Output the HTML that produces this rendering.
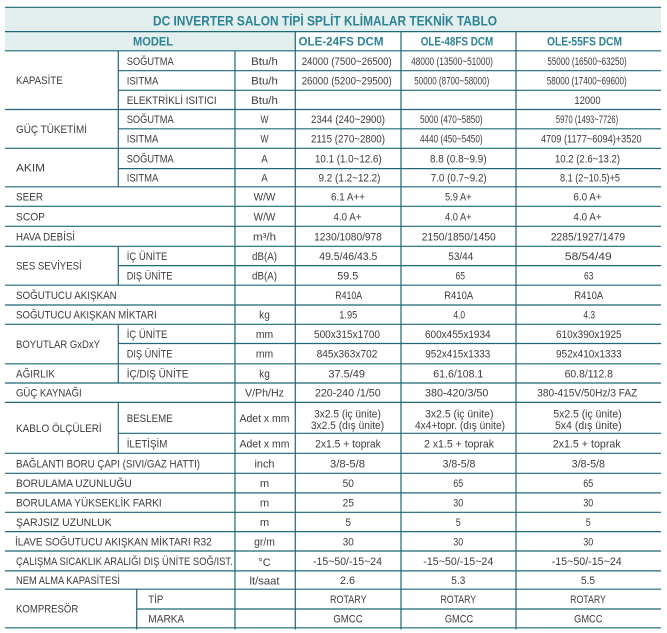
<!DOCTYPE html>
<html><head><meta charset="utf-8">
<style>
html,body{margin:0;padding:0;background:#fff;}
svg{display:block;}
.t{font-family:"Liberation Sans",sans-serif;font-size:11px;fill:#3c3c3c;}
.h{font-family:"Liberation Sans",sans-serif;font-weight:bold;fill:#2c8394;}
</style></head>
<body>
<svg width="667" height="633" viewBox="0 0 667 633" xmlns="http://www.w3.org/2000/svg">
<rect x="0" y="0" width="667" height="633" fill="#fff"/>
<rect x="5" y="7.3" width="656" height="24.3" fill="#e3eeee"/>
<rect x="5" y="31.6" width="290.3" height="19.2" fill="#e3eeee"/>
<g fill="none" stroke="#1e6878" stroke-width="1.2">
<path d="M5 7.3H661 M5 31.6H661 M5 50.8H661 M118.3 70.7H661 M118.3 90.3H661 M5 109.5H661 M118.3 128.8H661 M5 148.3H661 M118.3 168.6H661 M5 186.8H661 M5 206.3H661 M5 226.3H661 M5 246.3H661 M118.3 265.6H661 M5 285.2H661 M5 305H661 M5 324.3H661 M118.3 343.5H661 M5 363.8H661 M5 383H661 M5 402.4H661 M118.3 433.3H661 M5 453.3H661 M5 473.3H661 M5 492.9H661 M5 512.3H661 M5 531.6H661 M5 551H661 M5 570.9H661 M5 589.2H661 M136.7 609H661 M5 627.8H661"/>
<path d="M118.3 50.8V186.8 M118.3 246.3V285.2 M118.3 324.3V383 M118.3 402.4V453.3 M136.7 589.2V629.5 M235 50.8V629.5 M295.3 31.6V629.5 M401 31.6V629.5 M516 31.6V629.5"/>
</g>

<text class="h" x="325" y="25.5" font-size="14" text-anchor="middle" textLength="344" lengthAdjust="spacingAndGlyphs">DC INVERTER SALON TİPİ SPLİT KLİMALAR TEKNİK TABLO</text>
<text class="h" x="153" y="45.5" font-size="12" text-anchor="middle" textLength="40" lengthAdjust="spacingAndGlyphs">MODEL</text>
<text class="h" x="341" y="45.5" font-size="11.5" text-anchor="middle" textLength="85" lengthAdjust="spacingAndGlyphs">OLE-24FS DCM</text>
<text class="h" x="457" y="45.5" font-size="11.5" text-anchor="middle" textLength="72.6" lengthAdjust="spacingAndGlyphs">OLE-48FS DCM</text>
<text class="h" x="584.5" y="45.5" font-size="11.5" text-anchor="middle" textLength="75" lengthAdjust="spacingAndGlyphs">OLE-55FS DCM</text>

<g class="t" lengthAdjust="spacingAndGlyphs">
<!-- group labels -->
<text x="16" y="84.2" textLength="46.7" lengthAdjust="spacingAndGlyphs">KAPASİTE</text>
<text x="16" y="132.9" textLength="71" lengthAdjust="spacingAndGlyphs">GÜÇ TÜKETİMİ</text>
<text x="16" y="171.5" textLength="29" lengthAdjust="spacingAndGlyphs">AKIM</text>
<text x="16" y="200.6" textLength="27" lengthAdjust="spacingAndGlyphs">SEER</text>
<text x="16" y="220.3" textLength="29" lengthAdjust="spacingAndGlyphs">SCOP</text>
<text x="16" y="240.3" textLength="59" lengthAdjust="spacingAndGlyphs">HAVA DEBİSİ</text>
<text x="16" y="269.7" textLength="65.7" lengthAdjust="spacingAndGlyphs">SES SEVİYESİ</text>
<text x="16" y="299.1" textLength="100.7" lengthAdjust="spacingAndGlyphs">SOĞUTUCU AKIŞKAN</text>
<text x="16" y="318.7" textLength="140.7" lengthAdjust="spacingAndGlyphs">SOĞUTUCU AKIŞKAN MİKTARI</text>
<text x="16" y="348" textLength="84" lengthAdjust="spacingAndGlyphs">BOYUTLAR GxDxY</text>
<text x="16" y="377.4" textLength="39" lengthAdjust="spacingAndGlyphs">AĞIRLIK</text>
<text x="16" y="396.7" textLength="65.7" lengthAdjust="spacingAndGlyphs">GÜÇ KAYNAĞI</text>
<text x="16" y="431.9" textLength="85.7" lengthAdjust="spacingAndGlyphs">KABLO ÖLÇÜLERİ</text>
<text x="16" y="467.3" textLength="184" lengthAdjust="spacingAndGlyphs">BAĞLANTI BORU ÇAPI (SIVI/GAZ HATTI)</text>
<text x="16" y="487.1" textLength="115.7" lengthAdjust="spacingAndGlyphs">BORULAMA UZUNLUĞU</text>
<text x="16" y="506.6" textLength="145.7" lengthAdjust="spacingAndGlyphs">BORULAMA YÜKSEKLİK FARKI</text>
<text x="16" y="526" textLength="95.7" lengthAdjust="spacingAndGlyphs">ŞARJSIZ UZUNLUK</text>
<text x="15" y="545.3" textLength="196.7" lengthAdjust="spacingAndGlyphs">İLAVE SOĞUTUCU AKIŞKAN MİKTARI R32</text>
<text x="16" y="565" textLength="216.7" lengthAdjust="spacingAndGlyphs">ÇALIŞMA SICAKLIK ARALIĞI DIŞ ÜNİTE SOĞ/IST.</text>
<text x="16" y="584" textLength="104" lengthAdjust="spacingAndGlyphs">NEM ALMA KAPASİTESİ</text>
<text x="16" y="612.5" textLength="62.3" lengthAdjust="spacingAndGlyphs">KOMPRESÖR</text>

<!-- col2 labels -->
<text x="126.7" y="64.8" textLength="47" lengthAdjust="spacingAndGlyphs">SOĞUTMA</text>
<text x="126.7" y="84.5" textLength="31.7" lengthAdjust="spacingAndGlyphs">ISITMA</text>
<text x="126.7" y="103.9" textLength="90" lengthAdjust="spacingAndGlyphs">ELEKTRİKLİ ISITICI</text>
<text x="126.7" y="123.2" textLength="47" lengthAdjust="spacingAndGlyphs">SOĞUTMA</text>
<text x="126.7" y="142.6" textLength="31.7" lengthAdjust="spacingAndGlyphs">ISITMA</text>
<text x="126.7" y="162.5" textLength="47" lengthAdjust="spacingAndGlyphs">SOĞUTMA</text>
<text x="126.7" y="181.7" textLength="31.7" lengthAdjust="spacingAndGlyphs">ISITMA</text>
<text x="126.7" y="260" textLength="40.7" lengthAdjust="spacingAndGlyphs">İÇ ÜNİTE</text>
<text x="126.7" y="279.4" textLength="45.7" lengthAdjust="spacingAndGlyphs">DIŞ ÜNİTE</text>
<text x="126.7" y="337.9" textLength="40.7" lengthAdjust="spacingAndGlyphs">İÇ ÜNİTE</text>
<text x="126.7" y="357.7" textLength="45.7" lengthAdjust="spacingAndGlyphs">DIŞ ÜNİTE</text>
<text x="126.7" y="377.4" textLength="61.7" lengthAdjust="spacingAndGlyphs">İÇ/DIŞ ÜNİTE</text>
<text x="126.7" y="421.9" textLength="46" lengthAdjust="spacingAndGlyphs">BESLEME</text>
<text x="126.7" y="447.3" textLength="40.7" lengthAdjust="spacingAndGlyphs">İLETİŞİM</text>
<text x="148.3" y="603.1" textLength="15" lengthAdjust="spacingAndGlyphs">TİP</text>
<text x="148.3" y="622.4" textLength="36" lengthAdjust="spacingAndGlyphs">MARKA</text>
</g>

<g class="t" text-anchor="middle">
<!-- units -->
<text x="264.5" y="64.8" textLength="26.7" lengthAdjust="spacingAndGlyphs">Btu/h</text>
<text x="264.5" y="84.5" textLength="26.7" lengthAdjust="spacingAndGlyphs">Btu/h</text>
<text x="264.5" y="103.9" textLength="26.7" lengthAdjust="spacingAndGlyphs">Btu/h</text>
<text x="264.5" y="123.2" textLength="8" lengthAdjust="spacingAndGlyphs">W</text>
<text x="264.5" y="142.6" textLength="8" lengthAdjust="spacingAndGlyphs">W</text>
<text x="264.5" y="162.5" textLength="6.5" lengthAdjust="spacingAndGlyphs">A</text>
<text x="264.5" y="181.7" textLength="6.5" lengthAdjust="spacingAndGlyphs">A</text>
<text x="264.5" y="200.6" textLength="21.7" lengthAdjust="spacingAndGlyphs">W/W</text>
<text x="264.5" y="220.3" textLength="21.7" lengthAdjust="spacingAndGlyphs">W/W</text>
<text x="264.5" y="240.3" textLength="23" lengthAdjust="spacingAndGlyphs">m³/h</text>
<text x="264.5" y="260" textLength="25" lengthAdjust="spacingAndGlyphs">dB(A)</text>
<text x="264.5" y="279.4" textLength="25" lengthAdjust="spacingAndGlyphs">dB(A)</text>
<text x="264.5" y="318.7" textLength="10.7" lengthAdjust="spacingAndGlyphs">kg</text>
<text x="264.5" y="337.9" textLength="17.3" lengthAdjust="spacingAndGlyphs">mm</text>
<text x="264.5" y="357.7" textLength="17.3" lengthAdjust="spacingAndGlyphs">mm</text>
<text x="264.5" y="377.4" textLength="10.7" lengthAdjust="spacingAndGlyphs">kg</text>
<text x="264.5" y="396.7" textLength="39" lengthAdjust="spacingAndGlyphs">V/Ph/Hz</text>
<text x="264.5" y="421.9" textLength="50" lengthAdjust="spacingAndGlyphs">Adet x mm</text>
<text x="264.5" y="447.3" textLength="50" lengthAdjust="spacingAndGlyphs">Adet x mm</text>
<text x="264.5" y="467.3" textLength="20" lengthAdjust="spacingAndGlyphs">inch</text>
<text x="264.5" y="487.1" textLength="9.3" lengthAdjust="spacingAndGlyphs">m</text>
<text x="264.5" y="506.6" textLength="9.3" lengthAdjust="spacingAndGlyphs">m</text>
<text x="264.5" y="526" textLength="9.3" lengthAdjust="spacingAndGlyphs">m</text>
<text x="264.5" y="545.3" textLength="20.7" lengthAdjust="spacingAndGlyphs">gr/m</text>
<text x="264.5" y="566" textLength="12.3" lengthAdjust="spacingAndGlyphs">°C</text>
<text x="264.5" y="584.5" textLength="30" lengthAdjust="spacingAndGlyphs">lt/saat</text>

<!-- column 1 values -->
<text x="346.7" y="64.8" textLength="90" lengthAdjust="spacingAndGlyphs">24000 (7500~26500)</text>
<text x="346.7" y="84.5" textLength="90" lengthAdjust="spacingAndGlyphs">26000 (5200~29500)</text>
<text x="348" y="123.2" textLength="74" lengthAdjust="spacingAndGlyphs">2344 (240~2900)</text>
<text x="348" y="142.6" textLength="74" lengthAdjust="spacingAndGlyphs">2115 (270~2800)</text>
<text x="348.3" y="162.5" textLength="66.7" lengthAdjust="spacingAndGlyphs">10.1 (1.0~12.6)</text>
<text x="349.5" y="181.7" textLength="62" lengthAdjust="spacingAndGlyphs">9.2 (1.2~12.2)</text>
<text x="348" y="200.6" textLength="34" lengthAdjust="spacingAndGlyphs">6.1 A++</text>
<text x="347.5" y="220.3" textLength="28" lengthAdjust="spacingAndGlyphs">4.0 A+</text>
<text x="348" y="240.3" textLength="67.7" lengthAdjust="spacingAndGlyphs">1230/1080/978</text>
<text x="348.3" y="260" textLength="58" lengthAdjust="spacingAndGlyphs">49.5/46/43.5</text>
<text x="347.8" y="279.4" textLength="21" lengthAdjust="spacingAndGlyphs">59.5</text>
<text x="348.7" y="299.1" textLength="27" lengthAdjust="spacingAndGlyphs">R410A</text>
<text x="348.3" y="318.7" textLength="18" lengthAdjust="spacingAndGlyphs">1.95</text>
<text x="347" y="337.9" textLength="66" lengthAdjust="spacingAndGlyphs">500x315x1700</text>
<text x="347" y="357.7" textLength="60.7" lengthAdjust="spacingAndGlyphs">845x363x702</text>
<text x="346.7" y="377.4" textLength="36.7" lengthAdjust="spacingAndGlyphs">37.5/49</text>
<text x="347.8" y="396.7" textLength="65.7" lengthAdjust="spacingAndGlyphs">220-240 /1/50</text>
<text x="347.5" y="417.3" textLength="66.7" lengthAdjust="spacingAndGlyphs">3x2.5 (iç ünite)</text>
<text x="347.5" y="429" textLength="73.3" lengthAdjust="spacingAndGlyphs">3x2.5 (dış ünite)</text>
<text x="348" y="447.3" textLength="65.7" lengthAdjust="spacingAndGlyphs">2x1.5 + toprak</text>
<text x="347.5" y="467.3" textLength="35" lengthAdjust="spacingAndGlyphs">3/8-5/8</text>
<text x="348.3" y="487.1" textLength="11.3" lengthAdjust="spacingAndGlyphs">50</text>
<text x="348.3" y="506.6" textLength="11.3" lengthAdjust="spacingAndGlyphs">25</text>
<text x="348.3" y="526" textLength="5.5" lengthAdjust="spacingAndGlyphs">5</text>
<text x="348.3" y="545.3" textLength="11" lengthAdjust="spacingAndGlyphs">30</text>
<text x="347.5" y="565" textLength="69" lengthAdjust="spacingAndGlyphs">-15~50/-15~24</text>
<text x="347.5" y="584" textLength="15" lengthAdjust="spacingAndGlyphs">2.6</text>
<text x="348.3" y="603.1" textLength="36.7" lengthAdjust="spacingAndGlyphs">ROTARY</text>
<text x="348" y="622.4" textLength="29.3" lengthAdjust="spacingAndGlyphs">GMCC</text>

<!-- column 2 values -->
<text x="452" y="64.8" textLength="81.7" lengthAdjust="spacingAndGlyphs">48000 (13500~51000)</text>
<text x="451.8" y="84.5" textLength="75" lengthAdjust="spacingAndGlyphs">50000 (8700~58000)</text>
<text x="451.3" y="123.2" textLength="62.7" lengthAdjust="spacingAndGlyphs">5000 (470~5850)</text>
<text x="451.3" y="142.6" textLength="62.7" lengthAdjust="spacingAndGlyphs">4440 (450~5450)</text>
<text x="458.3" y="162.5" textLength="56.7" lengthAdjust="spacingAndGlyphs">8.8 (0.8~9.9)</text>
<text x="458.7" y="181.7" textLength="56" lengthAdjust="spacingAndGlyphs">7.0 (0.7~9.2)</text>
<text x="458.3" y="200.6" textLength="26.7" lengthAdjust="spacingAndGlyphs">5.9 A+</text>
<text x="458.3" y="220.3" textLength="26.7" lengthAdjust="spacingAndGlyphs">4.0 A+</text>
<text x="458.7" y="240.3" textLength="74" lengthAdjust="spacingAndGlyphs">2150/1850/1450</text>
<text x="460.8" y="260" textLength="25" lengthAdjust="spacingAndGlyphs">53/44</text>
<text x="460.3" y="279.4" textLength="9.5" lengthAdjust="spacingAndGlyphs">65</text>
<text x="458.7" y="299.1" textLength="29" lengthAdjust="spacingAndGlyphs">R410A</text>
<text x="459.2" y="318.7" textLength="11.7" lengthAdjust="spacingAndGlyphs">4.0</text>
<text x="457.8" y="337.9" textLength="65.7" lengthAdjust="spacingAndGlyphs">600x455x1934</text>
<text x="457.8" y="357.7" textLength="65" lengthAdjust="spacingAndGlyphs">952x415x1333</text>
<text x="458.3" y="377.4" textLength="50" lengthAdjust="spacingAndGlyphs">61.6/108.1</text>
<text x="456.7" y="396.7" textLength="63.3" lengthAdjust="spacingAndGlyphs">380-420/3/50</text>
<text x="459.3" y="417.3" textLength="68.3" lengthAdjust="spacingAndGlyphs">3x2.5 (iç ünite)</text>
<text x="460" y="429" textLength="90" lengthAdjust="spacingAndGlyphs">4x4+topr. (dış ünite)</text>
<text x="459" y="447.3" textLength="70" lengthAdjust="spacingAndGlyphs">2 x1.5 + toprak</text>
<text x="459" y="467.3" textLength="32.7" lengthAdjust="spacingAndGlyphs">3/8-5/8</text>
<text x="458.3" y="487.1" textLength="10" lengthAdjust="spacingAndGlyphs">65</text>
<text x="458.3" y="506.6" textLength="10" lengthAdjust="spacingAndGlyphs">30</text>
<text x="458.3" y="526" textLength="5" lengthAdjust="spacingAndGlyphs">5</text>
<text x="458.3" y="545.3" textLength="10" lengthAdjust="spacingAndGlyphs">30</text>
<text x="458.3" y="565" textLength="70" lengthAdjust="spacingAndGlyphs">-15~50/-15~24</text>
<text x="458.3" y="584" textLength="14" lengthAdjust="spacingAndGlyphs">5.3</text>
<text x="458.3" y="603.1" textLength="35.7" lengthAdjust="spacingAndGlyphs">ROTARY</text>
<text x="459" y="622.4" textLength="28.3" lengthAdjust="spacingAndGlyphs">GMCC</text>

<!-- column 3 values -->
<text x="587" y="64.8" textLength="79.3" lengthAdjust="spacingAndGlyphs">55000 (16500~63250)</text>
<text x="586.7" y="84.5" textLength="80" lengthAdjust="spacingAndGlyphs">58000 (17400~69600)</text>
<text x="587.5" y="103.9" textLength="26.3" lengthAdjust="spacingAndGlyphs">12000</text>
<text x="587" y="123.2" textLength="62.3" lengthAdjust="spacingAndGlyphs">5970 (1493~7726)</text>
<text x="591.3" y="142.6" textLength="100.7" lengthAdjust="spacingAndGlyphs">4709 (1177~6094)+3520</text>
<text x="587.5" y="162.5" textLength="65" lengthAdjust="spacingAndGlyphs">10.2 (2.6~13.2)</text>
<text x="590" y="181.7" textLength="60" lengthAdjust="spacingAndGlyphs">8.1 (2~10.5)+5</text>
<text x="587.5" y="200.6" textLength="28.3" lengthAdjust="spacingAndGlyphs">6.0 A+</text>
<text x="587.5" y="220.3" textLength="28.3" lengthAdjust="spacingAndGlyphs">4.0 A+</text>
<text x="588" y="240.3" textLength="74.3" lengthAdjust="spacingAndGlyphs">2285/1927/1479</text>
<text x="588.3" y="260" textLength="46.7" lengthAdjust="spacingAndGlyphs">58/54/49</text>
<text x="588.7" y="279.4" textLength="9.5" lengthAdjust="spacingAndGlyphs">63</text>
<text x="588.7" y="299.1" textLength="29" lengthAdjust="spacingAndGlyphs">R410A</text>
<text x="589.2" y="318.7" textLength="11.7" lengthAdjust="spacingAndGlyphs">4.3</text>
<text x="588.8" y="337.9" textLength="65.7" lengthAdjust="spacingAndGlyphs">610x390x1925</text>
<text x="588.8" y="357.7" textLength="65.7" lengthAdjust="spacingAndGlyphs">952x410x1333</text>
<text x="588.8" y="377.4" textLength="48.3" lengthAdjust="spacingAndGlyphs">60.8/112.8</text>
<text x="587.3" y="396.7" textLength="100" lengthAdjust="spacingAndGlyphs">380-415V/50Hz/3 FAZ</text>
<text x="587.5" y="417.3" textLength="68.3" lengthAdjust="spacingAndGlyphs">5x2.5 (iç ünite)</text>
<text x="588.3" y="429" textLength="66.7" lengthAdjust="spacingAndGlyphs">5x4 (dış ünite)</text>
<text x="586.7" y="447.3" textLength="68" lengthAdjust="spacingAndGlyphs">2x1.5 + toprak</text>
<text x="588.3" y="467.3" textLength="33.3" lengthAdjust="spacingAndGlyphs">3/8-5/8</text>
<text x="588.3" y="487.1" textLength="10" lengthAdjust="spacingAndGlyphs">65</text>
<text x="588.3" y="506.6" textLength="10" lengthAdjust="spacingAndGlyphs">30</text>
<text x="588.3" y="526" textLength="5" lengthAdjust="spacingAndGlyphs">5</text>
<text x="588.3" y="545.3" textLength="10" lengthAdjust="spacingAndGlyphs">30</text>
<text x="586.7" y="565" textLength="70" lengthAdjust="spacingAndGlyphs">-15~50/-15~24</text>
<text x="588" y="584" textLength="14" lengthAdjust="spacingAndGlyphs">5.5</text>
<text x="588" y="603.1" textLength="35.7" lengthAdjust="spacingAndGlyphs">ROTARY</text>
<text x="588.3" y="622.4" textLength="28.3" lengthAdjust="spacingAndGlyphs">GMCC</text>
</g>
</svg>
</body></html>
